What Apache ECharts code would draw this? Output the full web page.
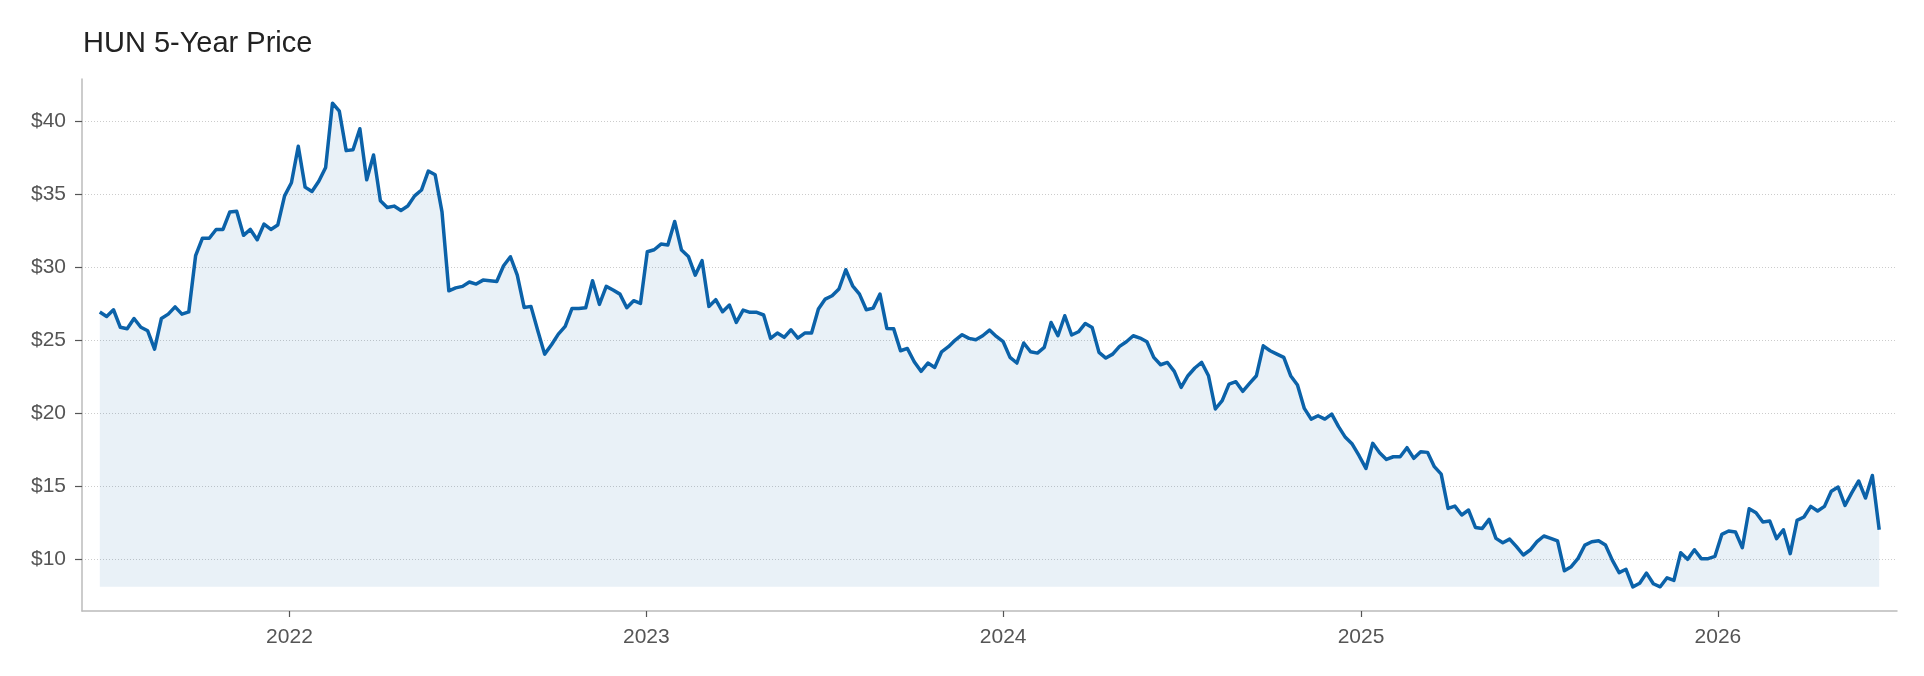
<!DOCTYPE html>
<html>
<head>
<meta charset="utf-8">
<script src="https://cdn.jsdelivr.net/npm/echarts@6/dist/echarts.min.js"></script>
<style>
html,body{margin:0;padding:0;background:#ffffff;}
#chart{width:1924px;height:676px;}
</style>
</head>
<body>
<div id="chart"></div>
<script>
// ---- data (weekly closes) ----
const chartTitle = 'HUN 5-Year Price';
const firstWeek = '2021-06-21';
const prices = [
  26.95, 26.64, 27.10, 25.90, 25.80, 26.50, 25.90, 25.66, 24.40, 26.50,
  26.80, 27.30, 26.80, 26.95, 30.80, 32.00, 32.00, 32.60, 32.60, 33.80,
  33.85, 32.20, 32.60, 31.90, 32.97, 32.60, 32.90, 34.90, 35.80, 38.30,
  35.50, 35.20, 35.90, 36.85, 41.25, 40.70, 38.00, 38.06, 39.50, 36.00,
  37.70, 34.57, 34.10, 34.20, 33.90, 34.20, 34.90, 35.30, 36.60, 36.35,
  33.80, 28.40, 28.60, 28.70, 29.00, 28.86,
  29.13, 29.09, 29.04, 30.11, 30.73, 29.47, 27.26, 27.33, 25.66, 24.06,
  24.70, 25.43, 25.96, 27.19, 27.19, 27.24, 29.09, 27.47, 28.70, 28.45,
  28.17, 27.24, 27.72, 27.53, 31.07, 31.21, 31.60, 31.53, 33.15, 31.19,
  30.75, 29.47, 30.46, 27.33, 27.79, 26.96, 27.42, 26.23, 27.08, 26.92,
  26.92, 26.74, 25.14, 25.50, 25.21, 25.73, 25.16, 25.50, 25.50, 27.15,
  27.83, 28.06, 28.52, 29.84, 28.74, 28.17, 27.10, 27.21, 28.17, 25.82,
  25.79, 24.29, 24.45, 23.54,
  22.88, 23.45, 23.15, 24.22, 24.57, 25.02, 25.39, 25.14, 25.05, 25.32,
  25.71, 25.27, 24.91, 23.84, 23.45, 24.82, 24.22, 24.13, 24.52, 26.23,
  25.32, 26.69, 25.37, 25.59, 26.16, 25.89, 24.18, 23.79, 24.06, 24.59,
  24.91, 25.32, 25.16, 24.91, 23.84, 23.33, 23.49, 22.88, 21.78, 22.58,
  23.11, 23.49, 22.58, 20.30, 20.87, 22.01, 22.17, 21.51, 22.05, 22.58,
  24.63, 24.29, 24.06, 23.84, 22.58, 21.94, 20.34, 19.61, 19.84, 19.61,
  19.95, 19.09, 18.36, 17.90, 17.10,
  16.23, 17.95, 17.31, 16.85, 17.03, 17.03, 17.65, 16.92, 17.37, 17.33,
  16.35, 15.84, 13.49, 13.65, 13.04, 13.38, 12.19, 12.12, 12.74, 11.44,
  11.14, 11.39, 10.87, 10.30, 10.64, 11.21, 11.60, 11.44, 11.26, 9.22,
  9.50, 10.07, 10.98, 11.21, 11.28, 10.98, 9.95, 9.09, 9.32, 8.12,
  8.36,
  9.06, 8.33, 8.12, 8.74, 8.56, 10.46, 10.00, 10.66, 10.05, 10.05,
  10.21, 11.71, 11.94, 11.87, 10.80, 13.47, 13.20, 12.56, 12.63, 11.42,
  12.03, 10.39, 12.67, 12.90, 13.63, 13.31, 13.63, 14.66, 14.95, 13.70,
  14.57, 15.37, 14.20, 15.75, 12.03
];
const yTickValues = [10, 15, 20, 25, 30, 35, 40];
const xTickYears = ['2022', '2023', '2024', '2025', '2026'];

// ---- build series points ----
const DAY = 86400000;
const [fy, fm, fd] = firstWeek.split('-').map(Number);
const t0 = Date.UTC(fy, fm - 1, fd);
const points = prices.map((p, i) => [t0 + i * 7 * DAY, p]);
const tFirst = points[0][0], tLast = points[points.length - 1][0];
const xPad = (tLast - tFirst) * 0.01;
const lo = Math.min(...prices), hi = Math.max(...prices);
const yPad = (hi - lo) * 0.05;
const xTickValues = xTickYears.map(y => Date.UTC(Number(y), 0, 1));

const FONT = '"Liberation Sans", Arial, Helvetica, sans-serif';
const LINE = '#0b62a9';

const chart = echarts.init(document.getElementById('chart'), null, {renderer: 'canvas'});
chart.setOption({
  animation: false,
  backgroundColor: '#ffffff',
  textStyle: {fontFamily: FONT},
  title: {
    text: chartTitle,
    left: 78,
    top: 24,
    textStyle: {fontFamily: FONT, fontSize: 29, fontWeight: 'normal', color: '#222222'}
  },
  grid: {left: 82, right: 27, top: 79, bottom: 65},
  xAxis: {
    type: 'value',
    min: tFirst - xPad,
    max: tLast + xPad,
    axisLine: {show: true, lineStyle: {color: '#bbbbbb', width: 1.5}},
    axisTick: {show: true, length: 6, customValues: xTickValues, lineStyle: {color: '#555555', width: 1.2}},
    axisLabel: {
      customValues: xTickValues,
      margin: 16,
      fontSize: 21,
      color: '#555555',
      fontFamily: FONT,
      formatter: v => String(new Date(v).getUTCFullYear())
    },
    splitLine: {show: false}
  },
  yAxis: {
    type: 'value',
    min: lo - yPad,
    max: hi + yPad,
    axisLine: {show: true, lineStyle: {color: '#bbbbbb', width: 1.5}},
    axisTick: {show: true, length: 7, customValues: yTickValues, lineStyle: {color: '#555555', width: 1.2}},
    axisLabel: {
      customValues: yTickValues,
      margin: 16,
      fontSize: 21,
      color: '#555555',
      fontFamily: FONT,
      formatter: v => '$' + v
    },
    splitLine: {show: true, lineStyle: {color: '#cccccc', width: 1, type: [1, 2]}}
  },
  series: [{
    type: 'line',
    data: points,
    showSymbol: false,
    symbol: 'none',
    smooth: false,
    lineStyle: {color: LINE, width: 3.5, join: 'round'},
    itemStyle: {color: LINE},
    areaStyle: {color: LINE, opacity: 0.09, origin: lo}
  }]
});
</script>
</body>
</html>
